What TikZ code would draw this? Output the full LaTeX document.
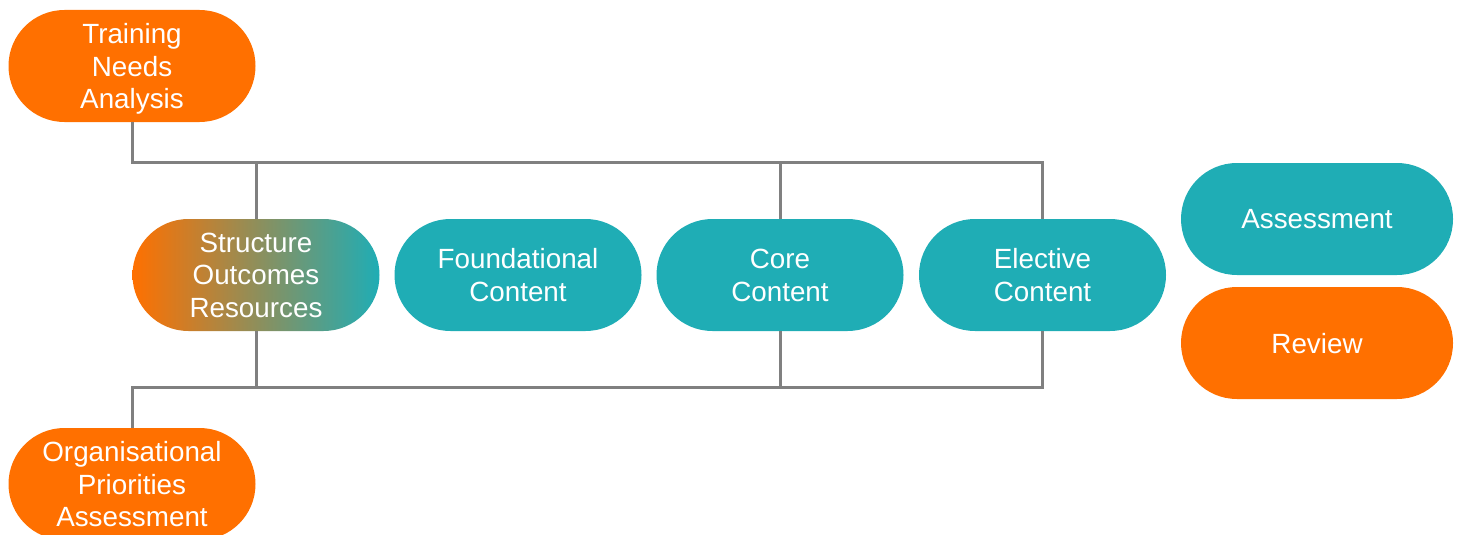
\documentclass[tikz,border=0pt]{standalone}
\usepackage{fontspec}
\setmainfont{Liberation Sans}
\definecolor{orng}{RGB}{255,112,0}
\definecolor{teal2}{RGB}{31,173,181}
\definecolor{lgray}{RGB}{128,128,128}
\begin{document}
\begin{tikzpicture}[x=1pt,y=-1pt,
  pill/.style={rectangle, rounded corners=55.9pt, minimum width=247pt, minimum height=112pt,
    inner sep=0pt, text=white, align=center, text depth=0pt, font=\fontsize{27.8}{32.6}\selectfont},
  orpill/.style={pill, fill=orng},
  tlpill/.style={pill, fill=teal2},
  gradpill/.style={pill, left color=orng, right color=teal2, shading angle=90},
  conn/.style={draw=lgray, line width=3pt}]
\useasboundingbox (0,0) rectangle (1458,535);
\clip (0,0) rectangle (1458,535);
\coordinate (top) at (0,162);
\coordinate (bot) at (0,387);
\node[orpill] (tna) at (132,66) {Training\\Needs\\Analysis};
\node[gradpill] (sor) at (256,275) {Structure\\Outcomes\\Resources};
\node[tlpill] (fc) at (518,275) {Foundational\\Content};
\node[tlpill] (cc) at (780,275) {Core\\Content};
\node[tlpill] (ec) at (1042.5,275) {Elective\\Content};
\node[tlpill, minimum width=272pt] (as) at (1317,219) {Assessment};
\node[orpill, minimum width=272pt] (rv) at (1317,343) {Review};
\node[orpill] (opa) at (132,484) {Organisational\\Priorities\\Assessment};
\draw[conn] (tna.south) -- (tna.south |- top) -| (ec.north);
\draw[conn] (sor.north) -- (sor.north |- top);
\draw[conn] (cc.north) -- (cc.north |- top);
\draw[conn] (opa.north) -- (opa.north |- bot) -| (ec.south);
\draw[conn] (sor.south) -- (sor.south |- bot);
\draw[conn] (cc.south) -- (cc.south |- bot);
\end{tikzpicture}
\end{document}
